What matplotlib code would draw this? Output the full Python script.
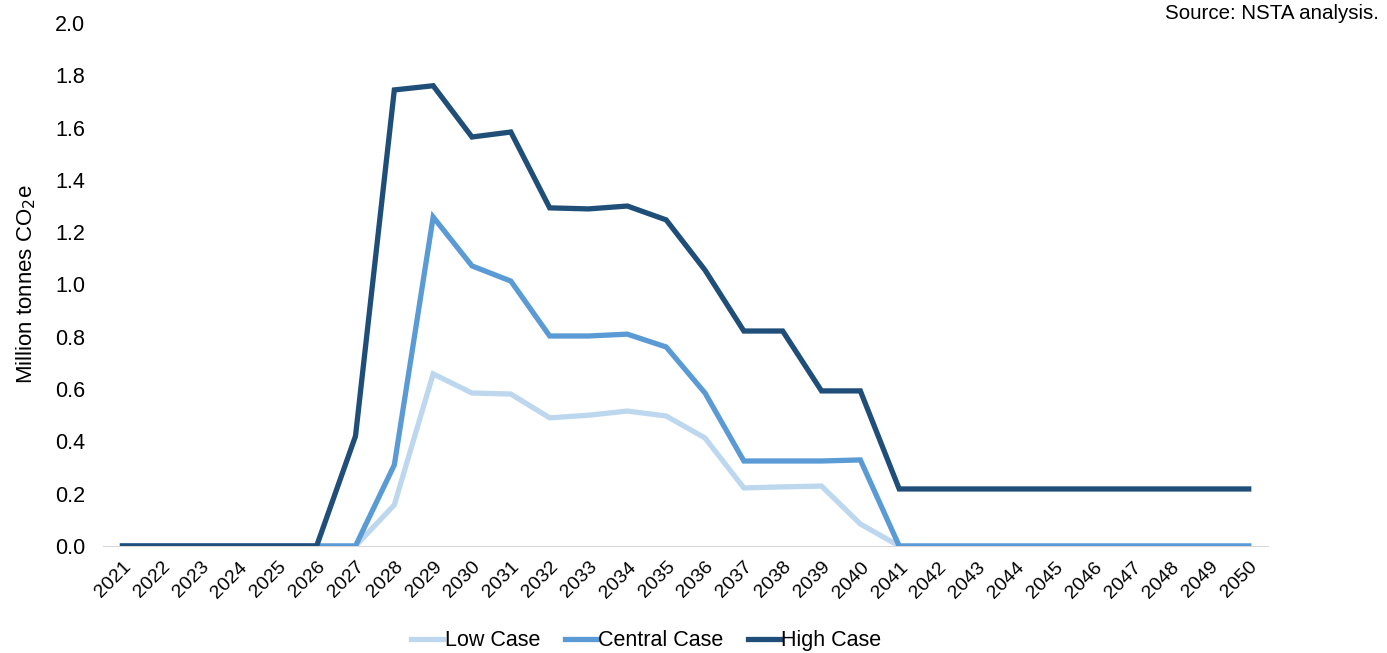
import numpy as np
import matplotlib.pyplot as plt

plt.rcParams['font.family'] = ['Liberation Sans', 'DejaVu Sans']

years = list(range(2021, 2051))

low_case = [0, 0, 0, 0, 0, 0, 0, 0.157, 0.658, 0.585, 0.581, 0.49, 0.50, 0.516, 0.497,
            0.413, 0.222, 0.226, 0.229, 0.084] + [0] * 10
central_case = [0, 0, 0, 0, 0, 0, 0, 0.31, 1.258, 1.071, 1.013, 0.803, 0.803, 0.81, 0.761,
                0.585, 0.325, 0.325, 0.325, 0.329] + [0] * 10
high_case = [0, 0, 0, 0, 0, 0, 0.42, 1.744, 1.76, 1.564, 1.583, 1.293, 1.289, 1.30, 1.247,
             1.055, 0.822, 0.822, 0.593, 0.593] + [0.218] * 10

fig = plt.figure(figsize=(13.87, 6.53), dpi=100)
ax = fig.add_axes([0.0743, 0.1639, 0.8400, 0.8009])

ax.plot(years, low_case, color='#BDD7EE', lw=3.8, label='Low Case', solid_joinstyle='miter')
ax.plot(years, central_case, color='#5B9BD5', lw=3.8, label='Central Case', solid_joinstyle='miter')
ax.plot(years, high_case, color='#1F4E79', lw=3.8, label='High Case', solid_joinstyle='miter')

ax.set_xlim(2020.5, 2050.5)
ax.set_ylim(0, 2.0)
ax.set_yticks(np.arange(0, 2.01, 0.2))
ax.set_yticklabels([f'{v:.1f}' for v in np.arange(0, 2.01, 0.2)], fontsize=15.5)
ax.set_xticks(years)
ax.set_xticklabels([str(y) for y in years], rotation=45, ha='right',
                   rotation_mode='anchor', fontsize=14)
ax.tick_params(axis='y', length=0, pad=13)
ax.tick_params(axis='x', length=0, pad=9)

for s in ['top', 'right', 'left']:
    ax.spines[s].set_visible(False)
ax.spines['bottom'].set_color('#D9D9D9')
ax.spines['bottom'].set_zorder(0)

ax.set_ylabel('Million tonnes CO$_2$e', fontsize=16)
ax.yaxis.set_label_coords(-0.056, 0.5)

fig.legend(loc='center', bbox_to_anchor=(0.466, 0.019), ncol=3, frameon=False,
           fontsize=15.5, handlelength=1.5, handletextpad=0.05, columnspacing=1.15)

fig.text(0.994, 0.979, 'Source: NSTA analysis.', ha='right', va='center', fontsize=14.8)

fig.savefig('out.png', dpi=100)
